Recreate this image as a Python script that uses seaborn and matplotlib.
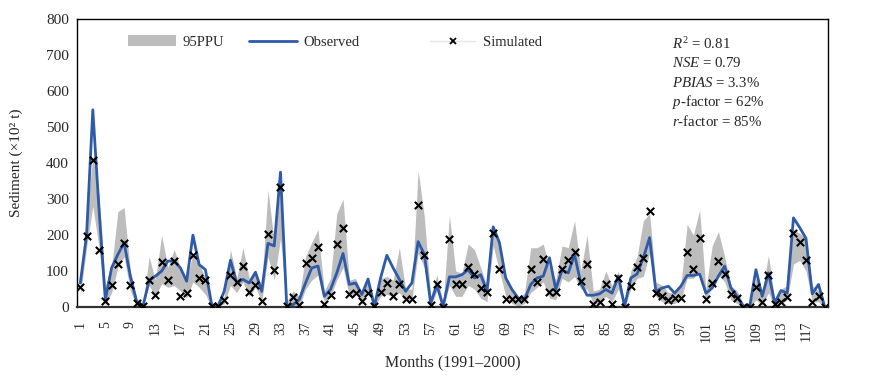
import numpy as np
import pandas as pd
import matplotlib
matplotlib.use('Agg')
import matplotlib.pyplot as plt
import seaborn as sns
from matplotlib.patches import Patch
from matplotlib.lines import Line2D

# monthly sediment, 1991-2000 (x10^2 t)
months = list(range(1, 121))
observed = [67, 200, 548, 270, 20, 109, 146, 179, 86, 16,
            2, 74, 86, 100, 128, 128, 109, 72, 200, 118,
            104, 7, 2, 44, 130, 67, 77, 67, 97, 44,
            177, 170, 375, 2, 7, 21, 67, 109, 114, 30,
            49, 95, 149, 63, 67, 35, 78, 2, 81, 144,
            109, 77, 44, 67, 182, 146, 11, 61, 2, 84,
            84, 90, 104, 81, 90, 44, 223, 179, 81, 49,
            25, 21, 63, 81, 86, 137, 49, 103, 95, 146,
            67, 33, 33, 37, 49, 39, 86, 2, 81, 92,
            137, 193, 44, 53, 58, 39, 58, 88, 88, 92,
            39, 53, 86, 114, 53, 30, 2, 2, 104, 30,
            95, 12, 46, 39, 248, 221, 191, 37, 63, 0]
simulated = [55, 198, 408, 160, 16, 61, 121, 179, 61, 11,
             2, 74, 33, 125, 74, 128, 30, 39, 146, 81,
             74, 4, 4, 21, 89, 70, 114, 41, 61, 16,
             202, 103, 333, 2, 27, 7, 123, 137, 167, 8,
             35, 174, 221, 36, 39, 16, 39, 2, 41, 66,
             30, 64, 23, 23, 285, 146, 7, 65, 0, 190,
             63, 65, 112, 92, 53, 41, 205, 106, 23, 23,
             23, 23, 106, 69, 134, 41, 41, 105, 130, 154,
             72, 120, 8, 14, 63, 9, 81, 0, 58, 111,
             137, 268, 39, 30, 21, 25, 25, 154, 107, 191,
             23, 67, 128, 92, 36, 25, 0, 0, 55, 14,
             89, 8, 14, 27, 207, 181, 130, 14, 32, 0]
ppu_upper = [81, 249, 420, 310, 60, 110, 265, 277, 100, 25,
             5, 140, 75, 200, 110, 160, 110, 75, 150, 120,
             80, 10, 5, 30, 160, 80, 165, 80, 100, 60,
             326, 180, 340, 15, 45, 30, 140, 180, 215, 45,
             80, 260, 300, 75, 80, 40, 80, 10, 80, 85,
             75, 165, 50, 50, 380, 250, 30, 90, 10, 255,
             100, 95, 175, 160, 110, 60, 225, 180, 85, 50,
             25, 40, 165, 165, 175, 110, 75, 170, 165, 240,
             100, 200, 45, 50, 100, 60, 100, 15, 100, 140,
             240, 260, 70, 60, 40, 40, 60, 230, 200, 270,
             50, 170, 210, 140, 60, 45, 10, 10, 80, 40,
             145, 20, 50, 60, 215, 205, 190, 60, 45, 5]
ppu_lower = [30, 165, 280, 165, 5, 40, 110, 140, 45, 3,
             0, 60, 30, 65, 55, 60, 45, 25, 70, 55,
             35, 0, 0, 10, 60, 40, 70, 30, 55, 15,
             140, 75, 190, 0, 5, 0, 50, 75, 90, 15,
             30, 75, 110, 30, 40, 10, 40, 0, 30, 35,
             30, 40, 20, 20, 150, 110, 0, 45, 0, 60,
             30, 30, 60, 50, 25, 15, 170, 100, 30, 10,
             3, 10, 40, 55, 70, 25, 20, 80, 70, 85,
             50, 50, 10, 10, 30, 15, 50, 0, 50, 80,
             85, 150, 30, 15, 10, 10, 20, 80, 80, 100,
             15, 60, 90, 70, 20, 10, 0, 0, 20, 5,
             40, 0, 10, 20, 120, 130, 100, 15, 15, 0]
stats_lines = [r'$R^{\mathrm{2}}$ = 0.81', r'$NSE$ = 0.79', r'$PBIAS$ = 3.3%',
               r'$p$-factor = 62%', r'$r$-factor = 85%']

df = pd.DataFrame({'month': months, 'observed': observed, 'simulated': simulated,
                   'upper': ppu_upper, 'lower': ppu_lower})

sns.set_style('white')
plt.rcParams['font.family'] = ['Liberation Serif', 'DejaVu Serif']
plt.rcParams['mathtext.fontset'] = 'custom'
plt.rcParams['mathtext.rm'] = 'Liberation Serif'
plt.rcParams['mathtext.it'] = 'Liberation Serif:italic'

band_c = '#bdbdbd'
line_c = '#2e5aa8'

fig, ax = plt.subplots(figsize=(8.77, 3.75), dpi=100)
fig.subplots_adjust(left=0.088, right=0.944, top=0.949, bottom=0.181)

ax.fill_between(df['month'], df['lower'], df['upper'], color=band_c, linewidth=0)
sns.lineplot(data=df, x='month', y='observed', color=line_c, linewidth=2.0, ax=ax)
sns.scatterplot(data=df, x='month', y='simulated', marker='x', color='black',
                s=28, linewidth=1.5, ax=ax, zorder=5)

ax.set_xlim(0.5, 120.5)
ax.set_ylim(0, 800)
ax.set_yticks(range(0, 801, 100))
ax.set_xticks(months[::4])
ax.set_xticklabels([str(m) for m in months[::4]], rotation=90)
ax.tick_params(axis='y', length=0, labelsize=11, pad=6)
ax.tick_params(axis='x', length=0, labelsize=10, pad=10)
for s in ax.spines.values():
    s.set_color('black')
    s.set_linewidth(1.0)
ax.spines['bottom'].set_color('#333333')
ax.spines['bottom'].set_linewidth(1.6)

ax.set_ylabel('Sediment (×10² t)', fontsize=11)
ax.yaxis.set_label_coords(-0.072, 0.5)
ax.set_xlabel('Months (1991–2000)', fontsize=11.5)
ax.xaxis.set_label_coords(0.5, -0.165)

leg1 = ax.legend(handles=[Patch(facecolor=band_c, edgecolor='none', label='95PPU'),
                          Line2D([], [], color=line_c, lw=2.0, label='Observed')],
                 ncol=2, frameon=False, fontsize=10.5, loc='center left',
                 bbox_to_anchor=(128 / 877, 1 - 42 / 375), bbox_transform=fig.transFigure,
                 borderpad=0, borderaxespad=0, handlelength=3.3, handletextpad=0.45,
                 columnspacing=1.7)
ax.add_artist(leg1)
ax.legend(handles=[Line2D([], [], color='#e6e6e6', lw=1.0, marker='x', markersize=5,
                          markeredgecolor='black', markeredgewidth=1.3, label='Simulated')],
          frameon=False, fontsize=10.5, loc='center left',
          bbox_to_anchor=(430 / 877, 1 - 42 / 375), bbox_transform=fig.transFigure,
          borderpad=0, borderaxespad=0, handlelength=3.1, handletextpad=0.5)

for i, t in enumerate(stats_lines):
    fig.text(672 / 877, 1 - (44 + i * 19.3) / 375, t, fontsize=10.7, va='center', ha='left')

fig.savefig('out.png', dpi=100)
